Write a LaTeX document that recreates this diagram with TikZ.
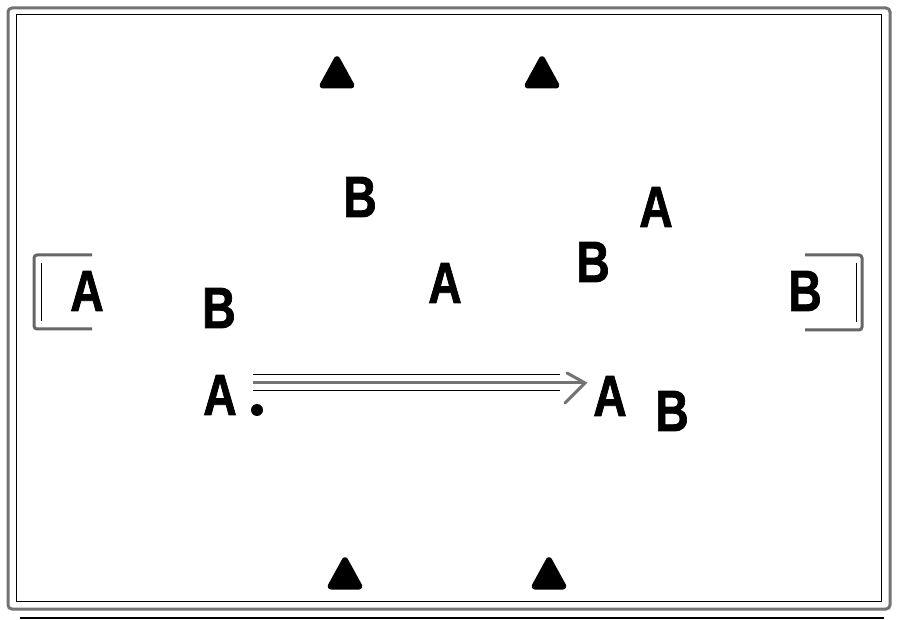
\documentclass[tikz,border=0pt]{standalone}
\usepackage{fontspec}
\newfontfamily\letterfont{Liberation Sans Bold}[FakeBold=1.5]
\usetikzlibrary{calc}
\tikzset{
  lettr/.style={font=\letterfont\fontsize{58}{58}\selectfont, inner sep=0pt, text=black},
  frameouter/.style={draw=black!55, line width=3pt, rounded corners=4pt},
  framethin/.style={draw=black, line width=1pt},
  goalbar/.style={draw=black!60, line width=3pt, rounded corners=3pt},
  goalthin/.style={draw=black, line width=0.8pt},
  cone/.style={fill=black, draw=black, line width=3pt, rounded corners=3pt, line join=round},
}
\newcommand{\Lt}[1]{\scalebox{0.8}[1]{#1}}
\begin{document}
\begin{tikzpicture}[x=1pt,y=-1pt]
\useasboundingbox (0,0) rectangle (900,620);
\fill[white] (0,0) rectangle (900,620);
% frame
\draw[frameouter] (8,8) rectangle (890,609);
\draw[framethin] (16,15) rectangle (881,601);
\draw[line width=1.2pt] (20,618) -- (884,618);
% goals
\draw[goalbar] (92,255) -- (34,255) -- (34,329) -- (92,329);
\draw[goalthin] (41,263) -- (41,321);
\draw[goalbar] (805,255) -- (862,255) -- (862,330) -- (805,330);
\draw[goalthin] (856,263) -- (856,322);
% cones
\foreach \cx/\cy in {337/72, 542/72, 345/573, 549/573}{
  \filldraw[cone] (\cx-17,\cy+15) -- (\cx,\cy-16) -- (\cx+17,\cy+15) -- cycle;
}
% letters
\node[lettr] (B1) at (360,197) {\Lt{B}};
\node[lettr] (A1) at (656,207) {\Lt{A}};
\node[lettr] (B2) at (593,262) {\Lt{B}};
\node[lettr] (A2) at (445,283) {\Lt{A}};
\node[lettr] (A3) at (87,291) {\Lt{A}};
\node[lettr] (B3) at (219,308) {\Lt{B}};
\node[lettr] (B4) at (805,291) {\Lt{B}};
\node[lettr] (A4) at (220,395) {\Lt{A}};
\node[lettr] (A5) at (610,396) {\Lt{A}};
\node[lettr] (B5) at (672,411) {\Lt{B}};
\fill (257,410) circle (6);
% pass arrow
\coordinate (s) at ([xshift=16pt,yshift=12pt]A4.east);
\coordinate (e) at ([xshift=-8pt,yshift=13pt]A5.west);
\draw[black!55, line width=3pt] (s) -- (e);
\draw[black, line width=1pt] ($(s)+(0,-8)$) -- ($(e)+(-25,-8)$);
\draw[black, line width=1pt] ($(s)+(0,8)$) -- ($(e)+(-25,8)$);
\draw[black!55, line width=3pt, line cap=round] ($(e)+(-18,-10)$) -- (e) -- ($(e)+(-20,20)$);
\end{tikzpicture}
\end{document}
